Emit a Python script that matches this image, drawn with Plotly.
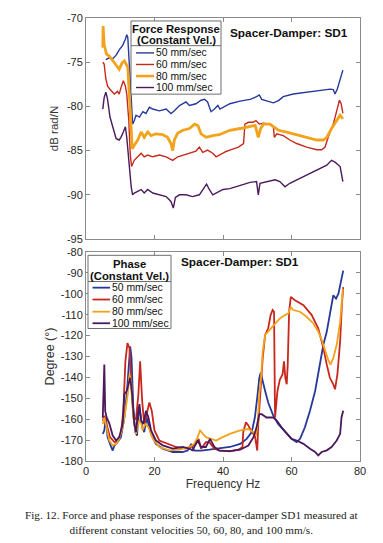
import plotly.graph_objects as go

# ---------------- DATA ----------------
series_names = ["50 mm/sec", "60 mm/sec", "80 mm/sec", "100 mm/sec"]
series_colors = ["#26399b", "#c8281c", "#f2a31b", "#4a1a5c"]

# Force response magnitude (dB rad/N)
f_mag_50 = [5.8, 6.8, 7.8, 8.8, 9.7, 10.7, 11.5, 11.9, 12.2, 12.7, 13.2, 13.6, 14.1, 14.6, 15.6, 16.6, 17.5, 18.5, 19.5,
            21.4, 23.4, 24.8, 25.8, 27.3, 29.2, 30.2, 32.1, 33.6, 34.6, 35.5, 36.5, 37.5, 38.5, 39.1, 42.0, 45.0, 47.9,
            49.8, 50.6, 51.3, 52.8, 54.7, 56.2, 57.6, 60.5, 64.4, 68.3, 71.3, 72.2, 72.7, 73.4, 74.2, 75.0]
mag_50 = [-74.7, -74.5, -74.6, -74.2, -73.6, -73.1, -72.4, -71.9, -72.2, -75.0, -79.0, -82.0, -81.6, -81.0, -81.2, -80.6,
          -80.8, -80.1, -80.3, -80.5, -80.3, -80.8, -80.5, -79.9, -79.5, -79.9, -79.7, -79.3, -79.2, -79.5, -80.6, -80.3,
          -79.9, -80.3, -79.7, -79.4, -79.2, -78.9, -78.7, -79.2, -79.4, -79.6, -79.35, -78.9, -78.6, -78.4, -78.15,
          -78.05, -78.1, -78.6, -78.0, -76.9, -75.9]

f_mag_60 = [4.9, 5.3, 5.8, 6.3, 7.3, 8.3, 9.2, 9.7, 10.2, 10.9, 11.5, 11.9, 12.5, 12.9, 13.3, 14.1, 15.1, 16.1, 17.0, 18.0,
            19.5, 21.4, 23.4, 25.3, 26.8, 28.3, 30.2, 32.1, 33.1, 34.1, 35.5, 37.0, 38.0, 38.9, 40.9, 42.0, 44.5, 46.0,
            46.4, 47.4, 48.8, 49.6, 50.6, 51.8, 53.7, 54.7, 55.0, 55.7, 57.6, 59.5, 61.5, 64.4, 67.4, 68.8, 69.8, 70.7,
            72.2, 73.2, 74.0, 74.5, 75.0]
mag_60 = [-75.0, -75.2, -76.9, -77.7, -78.2, -78.6, -78.3, -78.6, -77.9, -77.1, -77.7, -78.6, -81.6, -85.3, -86.8, -86.1,
          -85.7, -85.3, -85.7, -85.5, -85.7, -85.5, -85.7, -86.1, -85.7, -85.5, -85.3, -85.05, -84.6, -85.2, -84.95,
          -85.3, -85.7, -85.5, -85.1, -84.95, -84.6, -84.2, -82.0, -81.8, -81.8, -81.6, -82.0, -81.9, -82.0, -82.3,
          -83.5, -83.1, -83.3, -83.8, -84.2, -84.6, -84.9, -84.9, -84.6, -83.5, -82.0, -80.5, -79.3, -79.7, -80.8]

f_mag_80 = [4.9, 5.0, 5.3, 6.0, 6.8, 7.8, 8.8, 9.7, 10.5, 11.2, 11.7, 12.2, 12.7, 13.2, 13.5, 14.1, 15.1, 16.1, 17.0,
            18.0, 19.0, 20.4, 22.4, 23.8, 24.8, 25.3, 25.8, 26.8, 28.3, 30.2, 31.7, 32.7, 33.6, 35.1, 37.0, 38.9, 40.9,
            42.0, 45.0, 47.9, 49.4, 50.3, 50.9, 51.8, 53.7, 54.7, 56.2, 58.6, 61.5, 64.4, 67.4, 69.3, 70.3, 71.7, 73.2,
            74.2, 75.0]
mag_80 = [-73.35, -70.9, -73.0, -74.1, -74.3, -74.85, -75.4, -75.8, -75.1, -74.85, -75.2, -75.6, -79.0, -83.5, -84.8,
          -84.4, -83.8, -82.9, -83.5, -82.9, -83.3, -83.1, -83.2, -83.5, -84.2, -85.0, -83.8, -83.0, -82.7, -82.5,
          -82.0, -82.2, -83.1, -83.5, -83.3, -83.2, -82.9, -82.7, -82.5, -82.3, -82.15, -83.5, -82.6, -82.0, -82.0,
          -82.3, -82.7, -82.9, -83.2, -83.5, -83.8, -83.8, -83.5, -82.5, -81.6, -81.0, -81.4]

f_mag_100 = [4.9, 5.3, 5.8, 6.3, 7.0, 7.8, 8.8, 9.7, 10.2, 10.9, 11.5, 11.9, 12.3, 12.7, 13.2, 13.6, 14.1, 15.1, 16.1,
             17.0, 18.0, 19.5, 21.4, 23.4, 24.8, 25.5, 26.1, 27.3, 29.2, 31.1, 33.1, 34.6, 35.2, 36.0, 37.0, 38.5, 40.0,
             42.0, 45.0, 47.9, 49.8, 50.3, 50.8, 52.8, 55.2, 56.6, 58.1, 59.5, 62.5, 65.4, 68.3, 70.3, 71.7, 72.7, 74.2,
             75.0]
mag_100 = [-80.3, -79.0, -78.4, -79.2, -81.2, -82.3, -83.65, -83.8, -83.5, -82.9, -82.3, -83.5, -85.3, -87.6, -89.1,
           -90.0, -89.8, -89.6, -89.4, -89.8, -89.4, -89.8, -90.0, -90.2, -90.75, -91.5, -90.3, -90.0, -90.0, -90.2,
           -90.0, -89.1, -88.8, -89.4, -90.0, -89.7, -89.4, -89.3, -88.9, -88.6, -88.5, -90.0, -88.7, -88.5, -88.3,
           -88.5, -89.1, -88.7, -88.15, -87.6, -87.0, -86.65, -86.1, -86.3, -86.8, -88.5]

# Phase (degrees)
f_ph_50 = [4.9, 5.35, 5.8, 6.3, 7.0, 7.8, 8.3, 9.2, 10.2, 11.2, 11.9, 12.5, 12.9, 13.3, 13.8, 14.4, 14.9, 15.4, 15.9,
           16.4, 17.0, 17.7, 18.3, 19.0, 20.4, 22.4, 25.3, 28.2, 29.7, 30.7, 31.6, 33.6, 36.0, 38.0, 39.9, 42.0, 45.0,
           46.9, 48.4, 49.3, 50.0, 50.6, 51.0, 51.5, 52.3, 53.2, 54.7, 56.1, 58.1, 60.0, 61.5, 62.5, 63.9, 65.4, 66.9,
           68.3, 69.3, 70.3, 71.2, 72.2, 73.0, 73.7, 74.4, 75.1]
ph_50 = [-167.0, -165.4, -159.2, -168.6, -171.8, -175.0, -172.6, -171.0, -168.6, -159.2, -148.0, -132.3, -125.2, -130.7,
         -154.4, -166.2, -167.8, -156.0, -157.6, -163.9, -166.2, -159.2, -162.3, -167.0, -171.8, -174.1, -175.7, -175.7,
         -175.0, -171.8, -175.0, -175.0, -174.6, -174.1, -173.7, -173.3, -171.8, -169.4, -166.2, -159.2, -149.7, -140.2,
         -137.8, -141.8, -146.5, -152.0, -158.4, -162.3, -166.2, -169.4, -171.0, -169.4, -163.9, -156.0, -146.5, -132.3,
         -124.4, -118.1, -110.2, -100.7, -102.3, -100.0, -94.4, -88.9]

f_ph_60 = [4.9, 5.35, 6.0, 7.0, 8.3, 9.2, 10.2, 10.9, 11.5, 12.1, 12.7, 13.3, 13.9, 14.6, 15.3, 15.8, 16.4, 17.0, 17.7,
           18.5, 19.2, 20.0, 21.4, 23.8, 26.3, 29.2, 30.7, 32.1, 32.9, 33.6, 35.0, 36.0, 37.5, 38.9, 42.0, 44.5, 45.7,
           45.9, 46.7, 47.4, 48.4, 49.3, 50.0, 50.3, 50.8, 51.6, 52.3, 53.2, 53.9, 54.5, 54.9, 55.2, 55.9, 56.6, 57.4,
           57.8, 58.2, 58.6, 58.9, 59.3, 59.8, 61.0, 63.5, 65.9, 67.8, 69.3, 70.3, 71.2, 72.2, 72.7, 73.4, 74.2, 74.7,
           75.1]
ph_60 = [-160.7, -158.4, -162.3, -168.6, -171.0, -170.2, -167.0, -156.0, -132.3, -123.6, -126.0, -146.5, -159.2, -160.0,
         -148.0, -132.3, -151.3, -162.3, -157.6, -152.0, -156.0, -165.4, -170.2, -171.8, -173.3, -174.1, -173.3, -171.8,
         -169.4, -174.1, -171.0, -171.0, -174.1, -174.9, -175.4, -174.6, -173.3, -166.2, -161.5, -163.0, -166.2, -167.8,
         -175.0, -162.3, -148.0, -130.7, -119.7, -116.5, -110.2, -107.8, -108.6, -159.2, -146.5, -141.0, -138.6, -132.3,
         -140.2, -143.3, -133.9, -108.6, -101.5, -103.1, -105.5, -110.2, -116.5, -126.0, -133.9, -140.2, -143.3, -145.7,
         -138.6, -122.8, -105.5, -96.8]

f_ph_80 = [4.9, 5.35, 6.0, 6.8, 7.8, 8.8, 9.7, 10.7, 11.5, 12.2, 12.7, 13.2, 13.8, 14.6, 15.3, 15.9, 16.5, 17.3, 18.3,
           19.5, 21.4, 24.3, 27.3, 30.2, 31.6, 32.6, 33.3, 34.1, 35.0, 36.5, 38.0, 39.9, 42.0, 45.0, 47.4, 48.9, 49.6,
           50.1, 50.6, 51.1, 51.6, 52.3, 53.2, 54.2, 55.2, 56.6, 58.1, 59.1, 59.8, 60.5, 62.5, 64.4, 66.4, 67.8, 68.8,
           69.8, 70.7, 71.4, 72.2, 73.2, 74.2, 75.0]
ph_80 = [-162.3, -159.2, -163.9, -170.2, -172.6, -171.8, -169.4, -163.9, -156.0, -148.0, -138.6, -141.8, -159.2, -167.0,
         -162.3, -159.2, -165.4, -162.3, -163.9, -169.4, -173.3, -174.9, -174.6, -173.3, -171.8, -168.6, -165.4, -167.0,
         -168.6, -169.4, -170.2, -168.6, -167.0, -165.4, -164.7, -166.2, -167.8, -162.3, -148.0, -140.2, -127.6, -119.7,
         -118.1, -115.8, -114.2, -111.8, -110.2, -109.4, -106.3, -107.8, -108.6, -111.0, -114.2, -118.1, -122.0, -127.6,
         -131.5, -133.9, -130.7, -124.4, -113.4, -97.6]

f_ph_100 = [4.9, 5.35, 5.6, 6.0, 6.8, 7.8, 8.8, 9.7, 10.7, 11.2, 11.9, 12.5, 12.9, 13.4, 14.1, 14.6, 15.1, 15.6, 16.1,
            16.7, 17.5, 18.2, 19.0, 20.4, 22.4, 25.3, 28.2, 30.2, 31.1, 32.6, 33.6, 35.0, 36.2, 37.5, 38.9, 42.0, 45.0,
            47.4, 48.9, 49.8, 50.6, 51.3, 52.7, 54.7, 55.7, 57.1, 58.6, 60.0, 61.5, 63.5, 65.4, 66.9, 67.8, 68.8, 70.3,
            71.7, 73.2, 74.2, 74.6, 75.1]
ph_100 = [-159.3, -133.9, -156.0, -159.0, -162.0, -167.8, -170.2, -168.6, -162.3, -148.0, -146.5, -143.3, -140.2,
          -146.5, -162.3, -166.2, -157.6, -152.8, -160.7, -162.3, -156.0, -159.0, -165.4, -170.2, -172.5, -174.1,
          -173.3, -174.1, -174.9, -170.2, -173.3, -173.3, -169.4, -173.3, -175.0, -175.3, -174.6, -172.6, -168.6,
          -163.9, -157.6, -157.6, -159.2, -159.2, -160.7, -163.9, -167.0, -169.4, -170.2, -171.8, -174.1, -175.7,
          -177.3, -175.7, -174.9, -173.3, -170.2, -167.0, -159.2, -156.0]

mag_freqs = [f_mag_50, f_mag_60, f_mag_80, f_mag_100]
mag_vals = [mag_50, mag_60, mag_80, mag_100]
ph_freqs = [f_ph_50, f_ph_60, f_ph_80, f_ph_100]
ph_vals = [ph_50, ph_60, ph_80, ph_100]

x_ticks = [0, 20, 40, 60, 80]
x_tick_labels = ["0", "20", "40", "60", "80"]
mag_ticks = [-70, -75, -80, -85, -90, -95]
mag_tick_labels = ["-70", "-75", "-80", "-85", "-90", "-95"]
ph_ticks = [-80, -90, -100, -110, -120, -130, -140, -150, -160, -170, -180]
ph_tick_labels = ["-80", "-90", "-100", "-110", "-120", "-130", "-140", "-150", "-160", "-170", "-180"]

caption_lines = ["Fig. 12. Force and phase responses of the spacer-damper SD1 measured at",
                 "different constant velocities 50, 60, 80, and 100 mm/s."]

# ---------------- FIGURE ----------------
W, H = 383, 543
ML, MR, MT, MB = 86, 23, 13, 82
PW, PH = W - ML - MR, H - MT - MB


def px(x):
    return (x - ML) / PW


def py(y):
    return (H - MB - y) / PH


fig = go.Figure()
mag_widths = [1.4, 1.4, 2.8, 1.4]
for name, col, fx, vy, lw in zip(series_names, series_colors, mag_freqs, mag_vals, mag_widths):
    fig.add_trace(go.Scatter(x=fx, y=vy, mode="lines", name=name, showlegend=False,
                             line=dict(color=col, width=lw), xaxis="x", yaxis="y"))
for name, col, fx, vy in zip(series_names, series_colors, ph_freqs, ph_vals):
    fig.add_trace(go.Scatter(x=fx, y=vy, mode="lines", name=name, showlegend=False,
                             line=dict(color=col, width=1.8), xaxis="x2", yaxis="y2"))

sans = "Liberation Sans, Arial"
axis_common = dict(showline=True, linecolor="#8a8a8a", linewidth=1, mirror="ticks", ticks="inside",
                   ticklen=4, tickcolor="#8a8a8a", showgrid=False, zeroline=False,
                   tickfont=dict(family=sans, size=11, color="#262626"))

fig.update_layout(
    width=W, height=H,
    margin=dict(l=ML, r=MR, t=MT, b=MB),
    paper_bgcolor="white", plot_bgcolor="white",
    xaxis=dict(domain=[0, 1], anchor="y", range=[0, 80], tickvals=x_ticks, showticklabels=False, **axis_common),
    yaxis=dict(domain=[py(236.5), 1], anchor="x", range=[-95, -70], tickvals=mag_ticks, ticktext=mag_tick_labels,
               title=dict(text="dB rad/N", standoff=5, font=dict(family=sans, size=11.5, color="#333")),
               **axis_common),
    xaxis2=dict(domain=[0, 1], anchor="y2", range=[0, 80], tickvals=x_ticks, ticktext=x_tick_labels,
                title=dict(text="Frequency Hz", standoff=3, font=dict(family=sans, size=12, color="#333")),
                **axis_common),
    yaxis2=dict(domain=[0, py(249.6)], anchor="x2", range=[-180, -80], tickvals=ph_ticks, ticktext=ph_tick_labels,
                title=dict(text="Degree (°)", standoff=3, font=dict(family=sans, size=12.5, color="#333")),
                **axis_common),
)

shapes = []
annotations = []


def build_legend(box, sep_y, title_lines, title_ys, cx, entry_ys, sx0, sx1, tx, widths):
    x0, x1, y0, y1 = box
    shapes.append(dict(type="rect", xref="paper", yref="paper", x0=px(x0), x1=px(x1), y0=py(y1), y1=py(y0),
                       line=dict(color="#6e6e6e", width=1), fillcolor="white", layer="above"))
    shapes.append(dict(type="line", xref="paper", yref="paper", x0=px(x0), x1=px(x1), y0=py(sep_y), y1=py(sep_y),
                       line=dict(color="#6e6e6e", width=1), layer="above"))
    for t, ty in zip(title_lines, title_ys):
        annotations.append(dict(text="<b>%s</b>" % t, xref="paper", yref="paper", x=px(cx), y=py(ty),
                                xanchor="center", yanchor="middle", showarrow=False,
                                font=dict(family=sans, size=11.3, color="#111")))
    for name, col, ey, lw in zip(series_names, series_colors, entry_ys, widths):
        shapes.append(dict(type="line", xref="paper", yref="paper", x0=px(sx0), x1=px(sx1), y0=py(ey), y1=py(ey),
                           line=dict(color=col, width=lw), layer="above"))
        annotations.append(dict(text=name, xref="paper", yref="paper", x=px(tx), y=py(ey),
                                xanchor="left", yanchor="middle", showarrow=False,
                                font=dict(family=sans, size=10.4, color="#111")))


build_legend((131, 221, 16, 90), 41, ["Force Response", "(Constant Vel.)"], [24, 35.5], 176,
             [48.3, 60, 71.7, 83.3], 136, 154, 154, [1.4, 1.4, 2.6, 1.4])
build_legend((88, 171, 253, 327), 279.5, ["Phase", "(Constant Vel.)"], [262, 273.5], 129.5,
             [285.7, 297.7, 310, 321.7], 92.5, 110, 110, [1.8, 1.8, 1.8, 1.8])

annotations.append(dict(text="<b>Spacer-Damper: SD1</b>", xref="paper", yref="paper", x=px(289), y=py(28.3),
                        xanchor="center", yanchor="middle", showarrow=False,
                        font=dict(family=sans, size=11.8, color="#111")))
annotations.append(dict(text="<b>Spacer-Damper: SD1</b>", xref="paper", yref="paper", x=px(240), y=py(259.3),
                        xanchor="center", yanchor="middle", showarrow=False,
                        font=dict(family=sans, size=11.8, color="#111")))

annotations.append(dict(text="<br>".join(caption_lines), xref="paper", yref="paper", x=px(191), y=py(523),
                        xanchor="center", yanchor="middle", align="center", showarrow=False,
                        font=dict(family="Liberation Serif, Times New Roman", size=11.2, color="#1a1a1a")))

fig.update_layout(shapes=shapes, annotations=annotations)
fig.write_html("out.html", config={"displayModeBar": False},
               post_script="document.body.style.margin='0';")
